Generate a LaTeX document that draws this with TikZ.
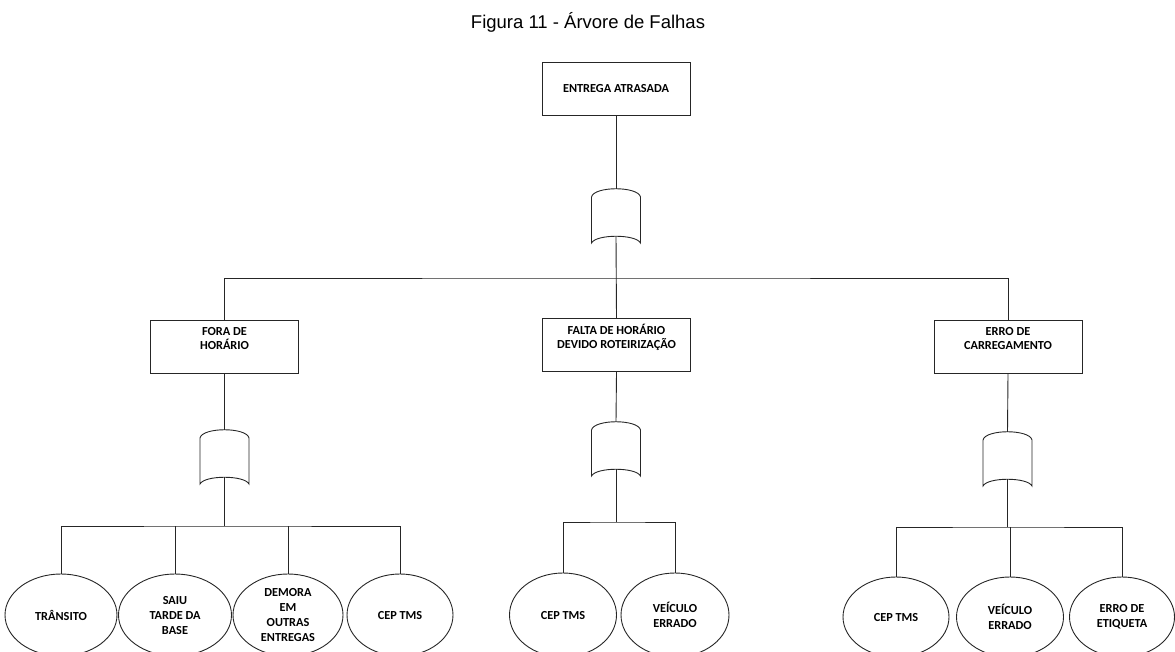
\documentclass[tikz,border=0pt]{standalone}
\usepackage{fontspec}
\setmainfont{Carlito}
\newfontfamily\titlefont{Liberation Sans}
\usetikzlibrary{shapes.geometric}
\begin{document}
\begin{tikzpicture}[x=1pt,y=-1pt,
  wire/.style={draw=black!85, line width=0.9pt},
  event/.style={draw=black!85, line width=1pt, rectangle, inner sep=0pt,
    minimum width=148pt, minimum height=53pt},
  evtext/.style={font=\bfseries\fontsize{12.3}{14}\selectfont},
  boxtext/.style={evtext, anchor=north, inner sep=0pt, align=center},
  basic/.style={draw=black!85, line width=0.9pt, ellipse, inner sep=0pt,
    align=center, font=\bfseries\fontsize{12.3}{15}\selectfont,
    minimum width=110pt, minimum height=82pt},
  pics/orgate/.style={code={
    \draw[wire] (-24.5,27) -- (-24.5,-19)
      .. controls (-22,-30) and (22,-30) .. (24.5,-19) -- (24.5,27)
      .. controls (20,18) and (-20,18) .. (-24.5,27) -- cycle;
    \coordinate (-top) at (0,-27.25);
    \coordinate (-bot) at (0,20.25);
  }}
]
\useasboundingbox (0,0) rectangle (1175,651);
\clip (0,0) rectangle (1175,651);

% title
\node[font=\titlefont\fontsize{18.5}{22}\selectfont] (title) at (588,22)
  {Figura 11 - Árvore de Falhas};

% top event and its gate
\node[event, evtext] (top) at (616,89) {ENTREGA ATRASADA};
\pic (g0) at (616,216) {orgate};
\coordinate (bar0) at (616,278);

% intermediate events
\node[event] (fora)  at (224.5,346.5) {};
\node[event] (falta) at (616.5,345) {};
\node[event] (erro)  at (1008,346.5) {};
\node[boxtext] (foraT)  at ([yshift=-5.6pt]fora.north)  {\vphantom{Á}FORA DE\\HORÁRIO};
\node[boxtext] (faltaT) at ([yshift=-5.6pt]falta.north) {\vphantom{Á}FALTA DE HORÁRIO\\DEVIDO ROTEIRIZAÇÃO};
\node[boxtext] (erroT)  at ([yshift=-5.6pt]erro.north)  {\vphantom{Á}ERRO DE\\CARREGAMENTO};

% gates below the intermediate events
\pic (g1) at (224.5,457) {orgate};
\pic (g2) at (616,449) {orgate};
\pic (g3) at (1007.5,459) {orgate};
\coordinate (bar1) at (224.5,526);
\coordinate (bar2) at (616,522);
\coordinate (bar3) at (1007.5,527);

% basic events
\node[basic, minimum width=112pt] (e11) at (61,615)  {TRÂNSITO};
\node[basic, minimum width=113pt] (e12) at (175,615) {SAIU\\TARDE DA\\BASE};
\node[basic, minimum width=110pt] (e13) at (288,615) {DEMORA\\EM\\OUTRAS\\ENTREGAS};
\node[basic, minimum width=106pt] (e14) at (400,615) {CEP TMS};

\node[basic, minimum width=107pt, minimum height=84pt] (e21) at (563,615) {CEP TMS};
\node[basic, minimum width=108pt, minimum height=84pt] (e22) at (675,615) {VEÍCULO\\ERRADO};

\node[basic, minimum width=106pt, minimum height=80pt] (e31) at (896,617)  {CEP TMS};
\node[basic, minimum width=107pt, minimum height=80pt] (e32) at (1010,617) {VEÍCULO\\ERRADO};
\node[basic, minimum width=105pt, minimum height=80pt] (e33) at (1122,617) {ERRO DE\\ETIQUETA};

% connectors: top level
\draw[wire] (top.south) -- (g0-top);
\draw[wire] (g0-bot) -- (falta.north);
\draw[wire] (fora.north) |- (bar0) -| (erro.north);

% connectors: left branch
\draw[wire] (fora.south) -- (g1-top);
\draw[wire] (g1-bot) -- (bar1);
\draw[wire] (e11.north) |- (bar1) -| (e14.north);
\draw[wire] (e12.north) -- (e12.north |- bar1);
\draw[wire] (e13.north) -- (e13.north |- bar1);

% connectors: middle branch
\draw[wire] (falta.south) -- (g2-top);
\draw[wire] (g2-bot) -- (bar2);
\draw[wire] (e21.north) |- (bar2) -| (e22.north);

% connectors: right branch
\draw[wire] (erro.south) -- (g3-top);
\draw[wire] (g3-bot) -- (bar3);
\draw[wire] (e31.north) |- (bar3) -| (e33.north);
\draw[wire] (e32.north) -- (e32.north |- bar3);
\end{tikzpicture}
\end{document}
